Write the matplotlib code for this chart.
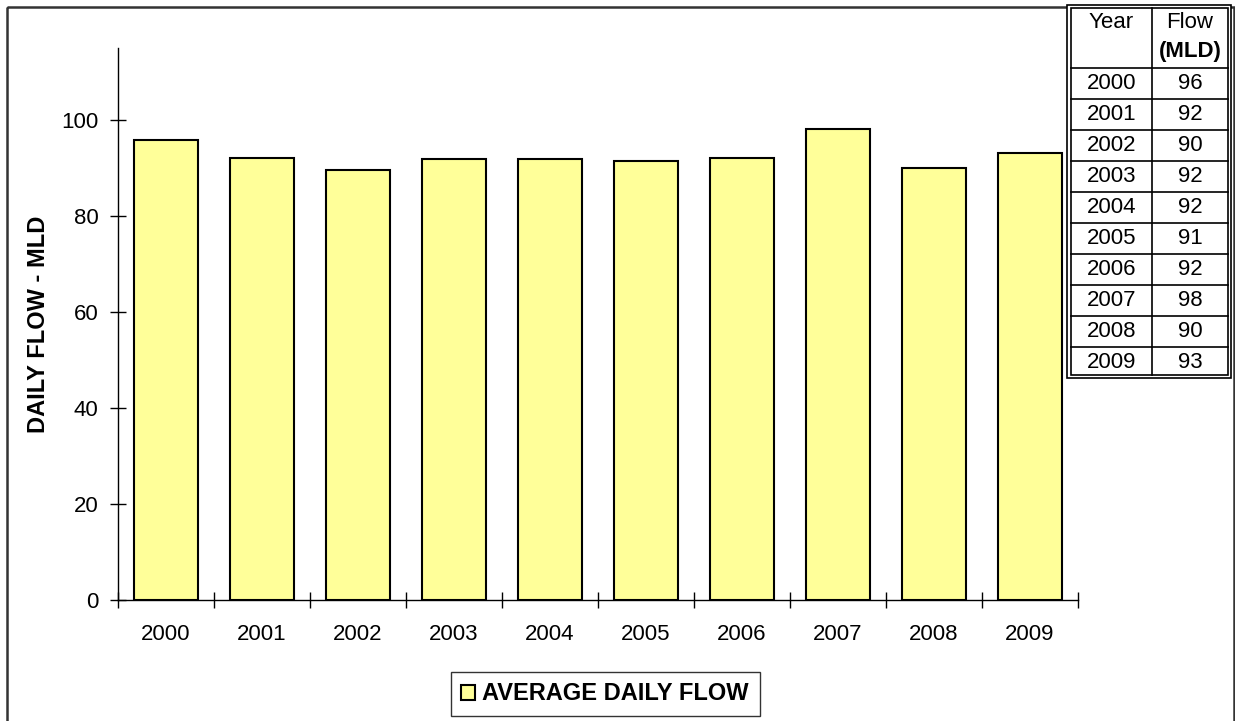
import matplotlib
matplotlib.use("Agg")
import matplotlib.pyplot as plt
import numpy as np
from matplotlib.patches import Rectangle

plt.rcParams["font.family"] = ["Liberation Sans", "DejaVu Sans"]

# datos
anios = ["2000", "2001", "2002", "2003", "2004", "2005", "2006", "2007", "2008", "2009"]
flujo = [95.8, 92.1, 89.6, 91.9, 91.9, 91.5, 92.1, 98.1, 90.0, 93.1]
flujo_tabla = ["96", "92", "90", "92", "92", "91", "92", "98", "90", "93"]

W, H = 1235, 721
fig = plt.figure(figsize=(W / 100, H / 100), dpi=100)

# --- ejes principales ---
ax = fig.add_axes([118 / W, 1 - 600 / H, 960 / W, 552 / H])
x = np.arange(len(anios))
ax.bar(x, flujo, width=0.67, color="#FFFF99", edgecolor="black", linewidth=1.5,
       label="AVERAGE DAILY FLOW", zorder=3)
ax.set_xlim(-0.5, len(anios) - 0.5)
ax.set_ylim(0, 115)
ax.set_yticks(np.arange(0, 101, 20))
ax.set_xticks(np.arange(-0.5, len(anios), 1.0))
ax.set_xticklabels([])
ax.set_xticks(x, minor=True)
ax.set_xticklabels(anios, minor=True)
ax.tick_params(axis="x", which="major", direction="inout", length=12, width=1)
ax.tick_params(axis="x", which="minor", length=0, pad=17.5, labelsize=16)
ax.tick_params(axis="y", direction="inout", length=12, width=1, pad=8, labelsize=16)
for s in ["top", "right"]:
    ax.spines[s].set_visible(False)
ax.spines["left"].set_linewidth(1)
ax.spines["bottom"].set_linewidth(1)
ax.set_ylabel("DAILY FLOW - MLD", fontsize=17, fontweight="bold")
ax.yaxis.set_label_coords(-0.071, 0.5)

leg = ax.legend(loc="center", bbox_to_anchor=(605 / W, 1 - 694 / H),
                bbox_transform=fig.transFigure, frameon=True, fancybox=False,
                prop={"size": 17, "weight": "bold"}, handlelength=0.6, handleheight=0.6,
                handletextpad=0.3, borderpad=0.45, borderaxespad=0)
leg.get_frame().set_edgecolor("black")
leg.get_frame().set_linewidth(1)

# --- capa en pixeles para marco y tabla ---
ov = fig.add_axes([0, 0, 1, 1], zorder=5)
ov.set_xlim(0, W)
ov.set_ylim(H, 0)
ov.axis("off")
ov.patch.set_alpha(0)

# marco exterior
ov.add_patch(Rectangle((7, 7), 1227, H + 20, fill=False, edgecolor="#333333", linewidth=1.8))

# tabla
tx0, tx1, tdiv = 1067, 1231, 1152
ty0, thead, ty1 = 5, 68, 378
fila = (ty1 - thead) / len(anios)
ov.add_patch(Rectangle((tx0, ty0), tx1 - tx0, ty1 - ty0, facecolor="white",
                       edgecolor="black", linewidth=1.2))
ov.add_patch(Rectangle((tx0 + 4, ty0 + 3), tx1 - tx0 - 7, ty1 - ty0 - 6, fill=False,
                       edgecolor="black", linewidth=1.2))
ov.plot([tdiv, tdiv], [ty0 + 3, ty1 - 3], color="black", lw=1.2)
for i in range(len(anios)):
    yl = thead + i * fila
    ov.plot([tx0 + 4, tx1 - 3], [yl, yl], color="black", lw=1.2)
cy = (tx0 + 4 + tdiv) / 2
cf = (tdiv + tx1 - 3) / 2
ov.text(cy, 22, "Year", ha="center", va="center", fontsize=16)
ov.text(cf, 22, "Flow", ha="center", va="center", fontsize=16)
ov.text(cf, 51, "(MLD)", ha="center", va="center", fontsize=16, fontweight="bold")
for i, (a, f) in enumerate(zip(anios, flujo_tabla)):
    yc = thead + (i + 0.5) * fila
    ov.text(cy, yc, a, ha="center", va="center", fontsize=16)
    ov.text(cf, yc, f, ha="center", va="center", fontsize=16)

fig.savefig("out.png", dpi=100)
